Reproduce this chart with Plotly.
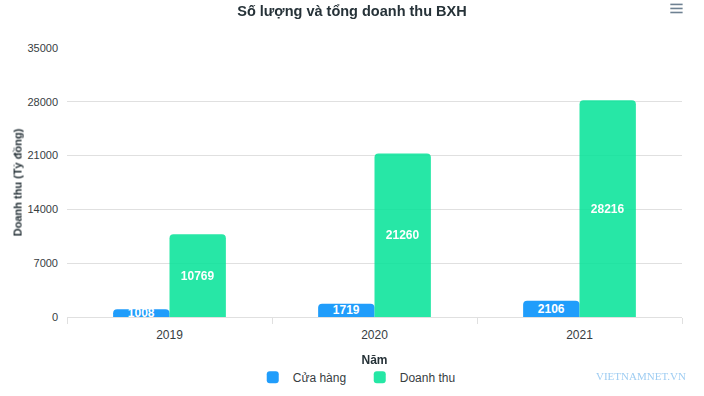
import plotly.graph_objects as go

years = ["2019", "2020", "2021"]
cua_hang = [1008, 1719, 2106]
doanh_thu = [10769, 21260, 28216]
y_ticks = [0, 7000, 14000, 21000, 28000, 35000]

font_family = "Liberation Sans, Arial, sans-serif"
label_font = dict(color="white", size=12, family=font_family, weight="bold")

fig = go.Figure()
fig.add_trace(go.Bar(
    x=years, y=cua_hang, name="Cửa hàng",
    marker=dict(color="#008FFB", line=dict(width=0)), opacity=0.87,
    text=[str(v) for v in cua_hang], textposition="inside",
    insidetextanchor="middle", textfont=label_font, cliponaxis=False,
))
fig.add_trace(go.Bar(
    x=years, y=doanh_thu, name="Doanh thu",
    marker=dict(color="#00E396", line=dict(width=0)), opacity=0.85,
    text=[str(v) for v in doanh_thu], textposition="inside",
    insidetextanchor="middle", textfont=label_font,
))

fig.update_layout(
    width=704, height=396,
    margin=dict(l=67, r=22, t=48, b=79, autoexpand=False),
    paper_bgcolor="white", plot_bgcolor="white",
    barmode="group", bargap=0.45, bargroupgap=0, barcornerradius=4,
    uniformtext=dict(minsize=12, mode="show"),
    font=dict(family=font_family, size=11, color="#373d3f"),
    title=dict(text="<b>Số lượng và tổng doanh thu BXH</b>", x=0.5, xanchor="center",
               y=0.985, yanchor="top",
               font=dict(size=14.5, color="#263238", family=font_family)),
    showlegend=True,
    legend=dict(orientation="h", x=0.476, xanchor="center", y=-0.17, yanchor="top",
                font=dict(size=12, color="#373d3f"),
                entrywidth=62, entrywidthmode="pixels"),
    xaxis=dict(
        type="category", automargin=False,
        title=dict(text="<b>Năm</b>", font=dict(size=12, color="#263238"), standoff=14),
        showgrid=False, showline=True, linecolor="#e0e0e0", linewidth=1,
        ticks="outside", tickcolor="#e0e0e0", ticklen=6, tickson="boundaries",
        tickfont=dict(size=12, color="#373d3f"), ticklabelstandoff=7,
    ),
    yaxis=dict(
        automargin=False,
        title=dict(text="<b>Doanh thu (Tỷ đồng)</b>", font=dict(size=11, color="#263238"), standoff=3),
        range=[0, 35000], tickvals=y_ticks, ticktext=[str(v) for v in y_ticks],
        showgrid=True, gridcolor="#e0e0e0", gridwidth=1, zeroline=False,
        showline=False, tickfont=dict(size=11, color="#373d3f"), ticklabelstandoff=8,
    ),
)

# watermark
fig.add_annotation(text="VIETNAMNET.VN", xref="paper", yref="paper", x=1.01, y=-0.22,
                   xanchor="right", yanchor="middle", showarrow=False,
                   font=dict(family="Liberation Serif, Times New Roman, serif", size=11, color="#9fcdf2"))

# menu icon
for yy in [1.162, 1.147, 1.132]:
    fig.add_shape(type="line", xref="paper", yref="paper", x0=0.981, x1=1.001, y0=yy, y1=yy,
                  line=dict(color="#6e8192", width=1.6))

fig.write_html("out.html", config={"displayModeBar": False},
               post_script="document.body.style.margin='0';")
